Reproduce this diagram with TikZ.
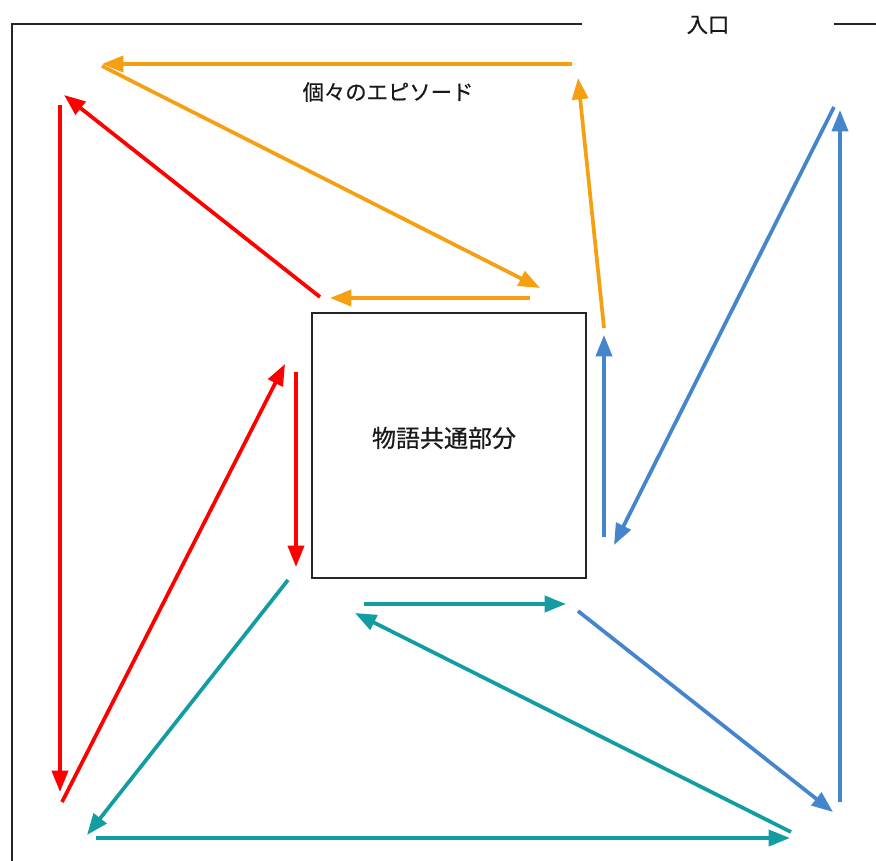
\documentclass[tikz,border=0pt]{standalone}
\usepackage{fontspec}
\setmainfont{Noto Sans CJK JP}
\newfontfamily\jpf[FakeBold=0.6]{Noto Sans CJK JP}
\usetikzlibrary{arrows.meta}
\definecolor{corange}{HTML}{F5A012}
\definecolor{cred}{HTML}{FF0000}
\definecolor{cblue}{HTML}{4485CC}
\definecolor{cteal}{HTML}{139DA3}
\tikzset{
  arr/.style={line width=2.8pt,-{Triangle[length=16pt,width=12pt]}},
  frameline/.style={line width=2pt,black!85},
  lbl/.style={font=\jpf\fontsize{16}{18}\selectfont,inner sep=0pt,text=black!90}
}
\begin{document}
\begin{tikzpicture}[x=0.75pt,y=-0.75pt]
\useasboundingbox (0,0) rectangle (876,861);
% frame
\coordinate (fl) at (12,861);
\coordinate (ftl) at (12,24);
\coordinate (ftr) at (582,24);
\coordinate (fr1) at (834,24);
\coordinate (fr2) at (876,24);
\draw[frameline] (fl) -- (ftl) -- (ftr);
\draw[frameline] (fr1) -- (fr2);
\node[lbl] (entry) at (708,25) {入口};
\node[lbl] (epi) at (388,92) {個々のエピソード};
\node[draw,line width=2pt,black!85,minimum width=205.5pt,minimum height=198.75pt,inner sep=0pt] (box) at (449,445.5) {};
\node[lbl,font=\jpf\fontsize{18}{20}\selectfont] (boxtxt) at (444,438) {物語共通部分};
% orange
\coordinate (o1a) at (572,64);  \coordinate (o1b) at (102,64);
\coordinate (o2a) at (102,66);  \coordinate (o2b) at (540,288);
\coordinate (o3a) at (530,298); \coordinate (o3b) at (330,298);
\coordinate (o4a) at (604,328); \coordinate (o4b) at (578,78);
\draw[arr,corange] (o1a) -- (o1b);
\draw[arr,corange] (o2a) -- (o2b);
\draw[arr,corange] (o3a) -- (o3b);
\draw[arr,corange] (o4a) -- (o4b);
% red
\coordinate (r1a) at (320,297); \coordinate (r1b) at (64,95);
\coordinate (r2a) at (60,105);  \coordinate (r2b) at (60,792);
\coordinate (r3a) at (62,802);  \coordinate (r3b) at (285,364);
\coordinate (r4a) at (296,372); \coordinate (r4b) at (296,567);
\draw[arr,cred] (r1a) -- (r1b);
\draw[arr,cred] (r2a) -- (r2b);
\draw[arr,cred] (r3a) -- (r3b);
\draw[arr,cred] (r4a) -- (r4b);
% blue
\coordinate (b1a) at (604,537); \coordinate (b1b) at (604,335);
\coordinate (b2a) at (834,107); \coordinate (b2b) at (614,545);
\coordinate (b3a) at (840,802); \coordinate (b3b) at (840,110);
\coordinate (b4a) at (578,611); \coordinate (b4b) at (833,812);
\draw[arr,cblue] (b1a) -- (b1b);
\draw[arr,cblue] (b2a) -- (b2b);
\draw[arr,cblue] (b3a) -- (b3b);
\draw[arr,cblue] (b4a) -- (b4b);
% teal
\coordinate (t1a) at (364,604); \coordinate (t1b) at (566,604);
\coordinate (t2a) at (288,580); \coordinate (t2b) at (87,835);
\coordinate (t3a) at (96,838);  \coordinate (t3b) at (790,838);
\coordinate (t4a) at (791,832); \coordinate (t4b) at (355,613);
\draw[arr,cteal] (t1a) -- (t1b);
\draw[arr,cteal] (t2a) -- (t2b);
\draw[arr,cteal] (t3a) -- (t3b);
\draw[arr,cteal] (t4a) -- (t4b);
\end{tikzpicture}
\end{document}
